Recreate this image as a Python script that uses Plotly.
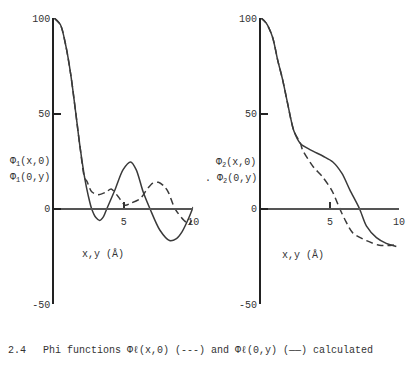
import plotly.graph_objects as go

# ---- data ----
# Panel 1: Phi_1
p1_solid_x = [0, 0.45, 0.85, 1.2, 1.54, 1.85, 2.2, 2.45, 2.7, 3.0, 3.28, 3.55, 3.78, 4.4, 4.96, 5.5, 5.9, 6.4, 6.9, 7.6, 8.3, 8.8, 9.2, 9.7, 10.0]
p1_solid_y = [100, 96.5, 85, 70, 51, 33, 16, 7, 0, -4.5, -6, -4, 0, 10.5, 20.6, 24.6, 20.6, 9, 0, -11, -16.5, -15.5, -12, -4.5, 1]
p1_dash_x = [0, 0.45, 0.85, 1.2, 1.54, 1.85, 2.2, 2.35, 2.7, 3.2, 3.76, 4.1, 4.6, 5.1, 5.5, 6.2, 6.7, 7.1, 7.5, 7.9, 8.2, 8.7, 9.35, 9.7, 9.9]
p1_dash_y = [100, 96.5, 85, 70, 51, 33, 16, 14.6, 9, 7.5, 9, 10.5, 6.5, 2, 3, 5.5, 10.5, 13.5, 14, 12, 9, 0, -6, -8, -6]

# Panel 2: Phi_2
p2_solid_x = [0, 0.36, 0.83, 1.2, 1.55, 1.9, 2.37, 2.86, 3.57, 4.5, 5.2, 5.86, 6.43, 7.14, 7.64, 8.36, 9.07, 9.8]
p2_solid_y = [100, 97.5, 90, 78, 68, 56, 41, 34.2, 31, 27.6, 24.6, 18.6, 10, 0, -9, -15, -18, -19.6]
p2_dash_x = [0, 0.36, 0.83, 1.2, 1.55, 1.9, 2.37, 2.86, 3.0, 3.79, 4.43, 5.14, 5.71, 6.07, 6.64, 7.64, 8.57, 9.5, 9.85]
p2_dash_y = [100, 97.5, 90, 78, 68, 56, 41, 34.2, 31, 22, 17, 9.5, 0, -5.5, -12.5, -16.6, -19, -19, -18.5]

y_ticks = [-50, 0, 50, 100]
y_ticktext = ["-50", "0", "50", "100"]
x_ticks = [5, 10]
x_ticktext = ["5", "10"]

W, H = 410, 369
FONT = "Liberation Mono, Courier New, monospace"
INK = "#333333"
LINE = "#3a3a3a"

fig = go.Figure()
for xs, ys, dash, xa, ya in [
    (p1_dash_x, p1_dash_y, "7px,4px", "x", "y"),
    (p1_solid_x, p1_solid_y, "solid", "x", "y"),
    (p2_dash_x, p2_dash_y, "7px,4px", "x2", "y2"),
    (p2_solid_x, p2_solid_y, "solid", "x2", "y2"),
]:
    fig.add_trace(go.Scatter(x=xs, y=ys, mode="lines", xaxis=xa, yaxis=ya,
                             line=dict(color=LINE, width=1.5, dash=dash, shape="spline", smoothing=0.8),
                             showlegend=False, hoverinfo="skip"))

ydom = [(H - 309.5) / H, (H - 13.5) / H]
xpos = (H - 210.8) / H

def xaxis_cfg(dom):
    return dict(domain=dom, range=[0, 10], anchor="free", position=xpos,
                showline=True, linecolor="#555555", linewidth=2, showgrid=False, zeroline=False,
                ticks="inside", ticklen=6, tickwidth=1.5, tickcolor=INK,
                tickvals=x_ticks, ticktext=x_ticktext, ticklabelstandoff=3,
                tickfont=dict(family=FONT, size=10, color=INK))

def yaxis_cfg(anchor):
    return dict(domain=ydom, range=[-50, 100], anchor=anchor,
                showline=True, linecolor="#222222", linewidth=2, showgrid=False, zeroline=False,
                ticks="inside", ticklen=7, tickwidth=2, tickcolor="#222222",
                tickvals=y_ticks, ticktext=y_ticktext,
                tickfont=dict(family=FONT, size=10, color=INK))

fig.update_layout(
    width=W, height=H, margin=dict(l=0, r=0, t=0, b=0),
    paper_bgcolor="white", plot_bgcolor="rgba(0,0,0,0)",
    xaxis=xaxis_cfg([55 / W, 196 / W]),
    yaxis=yaxis_cfg("x"),
    xaxis2=xaxis_cfg([265 / W, 405 / W]),
    yaxis2=yaxis_cfg("x2"),
)

def ann(text, x, y, size=10, xanchor="left"):
    fig.add_annotation(text=text, x=x / W, y=1 - y / H, xref="paper", yref="paper",
                       xanchor=xanchor, yanchor="middle", showarrow=False,
                       font=dict(family=FONT, size=size, color=INK))

ann("Φ<sub>1</sub>(x,0)", 8, 162)
ann("Φ<sub>1</sub>(0,y)", 8, 179)
ann("Φ<sub>2</sub>(x,0)", 217, 163)
ann(". Φ<sub>2</sub>(0,y)", 206, 180)
ann("x,y (Å)", 105, 257, xanchor="center")
ann("x,y (Å)", 308, 258, xanchor="center")
ann("2.4", 6, 357)
ann("Phi functions Φℓ(x,0) (---) and Φℓ(0,y) (——) calculated", 42, 357)

fig.write_html("out.html")
